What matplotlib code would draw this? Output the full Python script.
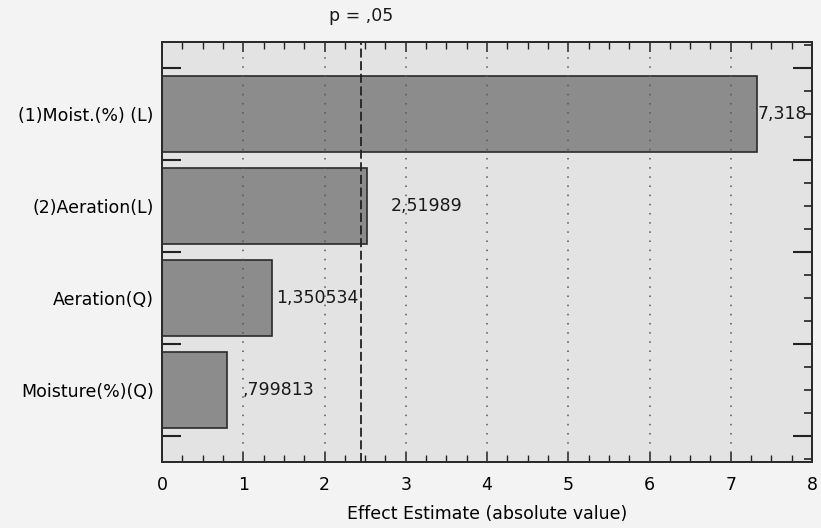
import numpy as np
import matplotlib.pyplot as plt
from matplotlib.ticker import MultipleLocator

# pareto of standardized effects
labels = ["(1)Moist.(%) (L)", "(2)Aeration(L)", "Aeration(Q)", "Moisture(%)(Q)"]
effects = [7.318, 2.51989, 1.350534, 0.799813]
value_text = ["7,318", "2,51989", "1,350534", ",799813"]
p_crit = 2.447
x_ticks = [0, 1, 2, 3, 4, 5, 6, 7, 8]

plt.rcParams['font.family'] = ['DejaVu Sans']
FS = 12.5

fig = plt.figure(figsize=(8.21, 5.28), dpi=100, facecolor='#f3f3f3')
ax = fig.add_axes([162 / 821, 66 / 528, 650 / 821, 420 / 528])
ax.set_facecolor('#e3e3e3')

pos = np.arange(len(labels))
ax.barh(pos, effects, height=0.83, color='#8c8c8c', edgecolor='#2a2a2a',
        linewidth=1.2, zorder=2)

for x in x_ticks[1:-1]:
    ax.axvline(x, color='#555555', linestyle=(0, (1, 5)), linewidth=1.1, zorder=3)
ax.axvline(p_crit, color='#222222', linestyle=(0, (5, 2)), linewidth=1.3, zorder=4)

text_offsets = [1, 17, 3, 11]
for i, (v, t) in enumerate(zip(effects, value_text)):
    ax.annotate(t, (v, i), xytext=(text_offsets[i], 0), textcoords='offset points',
                va='center', ha='left', fontsize=FS, color='#1a1a1a', zorder=5)

ax.text(p_crit, 1.04, "p = ,05", transform=ax.get_xaxis_transform(),
        ha='center', va='bottom', fontsize=FS, color='#1a1a1a')

ax.set_xlim(0, 8)
ax.set_ylim(3.78, -0.78)
ax.set_xticks(x_ticks)
ax.xaxis.set_minor_locator(MultipleLocator(0.25))
ax.set_yticks(pos)
ax.set_yticklabels(labels, fontsize=FS)
ax.set_yticks(np.arange(-0.5, 4, 1.0), minor=True)

ax.tick_params(axis='x', which='both', direction='in', top=True, bottom=True,
               labelsize=FS, pad=10, color='#222222')
ax.tick_params(axis='x', which='major', length=7, width=1.1)
ax.tick_params(axis='x', which='minor', length=5, width=1.0)
ax.tick_params(axis='y', which='major', length=0, pad=6)
ax.tick_params(axis='y', which='minor', direction='in', left=True, right=False,
               length=14, width=1.5, color='#222222')

# right side ticks
ax2 = ax.twinx()
ax2.set_ylim(ax.get_ylim())
ax2.set_yticks(np.arange(-0.5, 4, 1.0))
ax2.yaxis.set_minor_locator(MultipleLocator(0.25))
ax2.tick_params(axis='y', which='major', direction='in', length=14, width=1.5,
                labelright=False, color='#222222')
ax2.tick_params(axis='y', which='minor', direction='in', length=6, width=1.2,
                color='#222222')

for a in (ax, ax2):
    for s in a.spines.values():
        s.set_color('#2a2a2a')
        s.set_linewidth(1.3)

ax.set_xlabel("Effect Estimate (absolute value)", fontsize=FS, labelpad=8)

fig.savefig("out.png", dpi=100, facecolor=fig.get_facecolor())
